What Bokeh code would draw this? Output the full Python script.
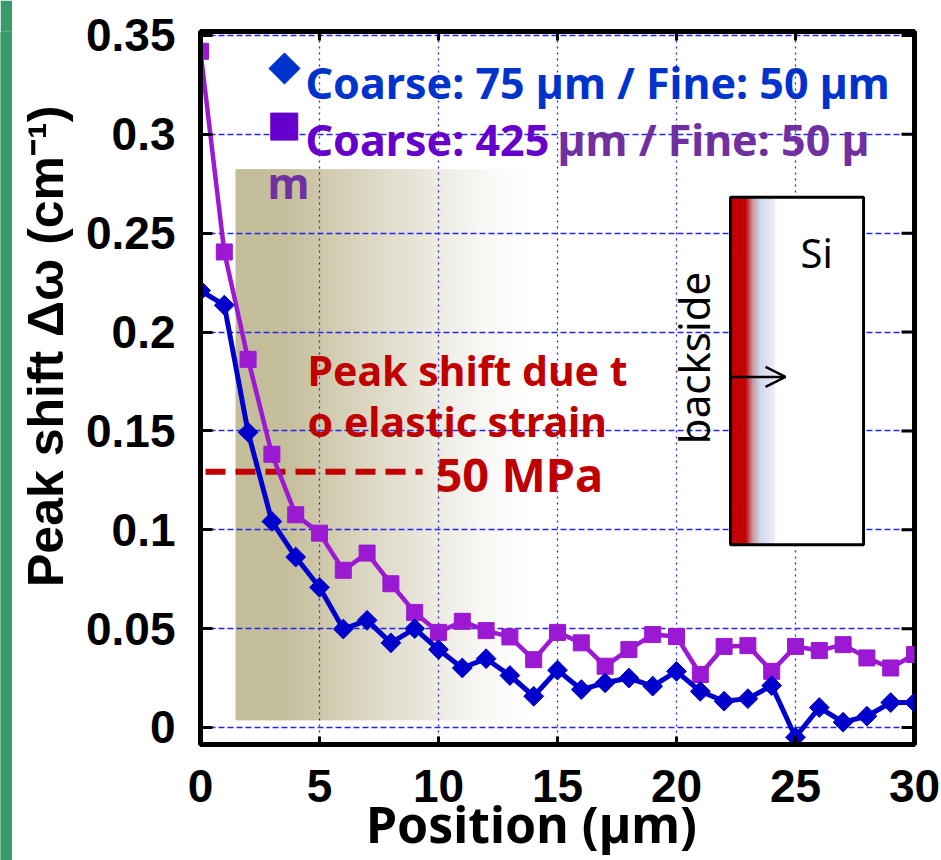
import numpy as np
from bokeh.plotting import figure
from bokeh.models import Range1d, FixedTicker, Arrow, OpenHead
from bokeh.layouts import row
from bokeh.core.properties import value
from bokeh.embed import file_html
from bokeh.resources import INLINE

# ---------------- data ----------------
positions = list(range(31))
coarse75_fine50 = [0.221, 0.2136, 0.1493, 0.1042, 0.0862, 0.0709, 0.0498, 0.0542, 0.0428, 0.0500,
                   0.0394, 0.0301, 0.0348, 0.0263, 0.0158, 0.0290, 0.0192, 0.0226, 0.0250, 0.0209,
                   0.0284, 0.0183, 0.0133, 0.0146, 0.0212, -0.0049, 0.0101, 0.0027, 0.0057, 0.0126,
                   0.0126]
coarse425_fine50 = [0.342, 0.2405, 0.1862, 0.1382, 0.1076, 0.0983, 0.0795, 0.0882, 0.0727, 0.0582,
                    0.0481, 0.0537, 0.0490, 0.0458, 0.0343, 0.0481, 0.0428, 0.0310, 0.0394, 0.0470,
                    0.0460, 0.0268, 0.0410, 0.0414, 0.0284, 0.0410, 0.0389, 0.0419, 0.0352, 0.0301,
                    0.0369]
x_ticks = [0, 5, 10, 15, 20, 25, 30]
y_ticks = [0, 0.05, 0.1, 0.15, 0.2, 0.25, 0.3, 0.35]
y_tick_labels = ["0", "0.05", "0.1", "0.15", "0.2", "0.25", "0.3", "0.35"]
legend_blue = "Coarse: 75 µm / Fine: 50 µm"
legend_purple = ["Coarse: 425", "µm / Fine: 50 µ", "m"]
note_lines = ["Peak shift due t", "o elastic strain"]
stress_label = "50 MPa"
stress_level = 0.1293
x_label = "Position (µm)"
y_label = "Peak shift Δω (cm⁻¹)"

BLUE = "#0000CD"
PURPLE = "#9B19D2"
RED = "#C00000"
GRIDC = "#2626E6"
NBSP = "\u00a0"

X0, X1 = 0, 30
Y0, Y1 = -0.0086, 0.352

# ---------------- figure ----------------
p = figure(width=929, height=860, output_backend="svg", toolbar_location=None,
           x_range=Range1d(X0, X1), y_range=Range1d(Y0, Y1),
           min_border_left=188, min_border_right=27, min_border_top=31, min_border_bottom=115,
           background_fill_color="white", border_fill_color="white",
           outline_line_color="black", outline_line_width=5)

# grid
p.xgrid.ticker = FixedTicker(ticks=x_ticks)
p.ygrid.ticker = FixedTicker(ticks=y_ticks)
p.xgrid.grid_line_color = GRIDC
p.xgrid.grid_line_dash = "2 4"
p.xgrid.grid_line_width = 1.3
p.ygrid.grid_line_color = GRIDC
p.ygrid.grid_line_dash = "6 3"
p.ygrid.grid_line_width = 1.3

# axes
for ax in (p.xaxis[0], p.yaxis[0]):
    ax.axis_line_width = 5
    ax.major_tick_out = 0
    ax.major_tick_line_width = 3
    ax.minor_tick_line_color = None
    ax.major_label_text_font = "Liberation Sans"
    ax.major_label_text_font_style = "bold"
    ax.major_label_text_font_size = "46px"
    ax.major_label_text_color = "black"
    ax.axis_label_text_color = "black"
    ax.axis_label_text_font_style = "bold"

p.xaxis.ticker = FixedTicker(ticks=x_ticks)
p.xaxis.major_tick_in = 8
p.xaxis.major_label_standoff = 25
p.xaxis.axis_label = x_label + NBSP * 4
p.xaxis.axis_label_text_font = "Noto Sans"
p.xaxis.axis_label_text_font_size = "50px"
p.xaxis.axis_label_standoff = -15

p.yaxis.ticker = FixedTicker(ticks=y_ticks)
p.yaxis.major_label_overrides = {t: l for t, l in zip(y_ticks, y_tick_labels)}
p.yaxis.major_tick_in = 12
p.yaxis.major_label_standoff = 25
p.yaxis.axis_label = NBSP * 6 + y_label
p.yaxis.axis_label_text_font = "Liberation Sans"
p.yaxis.axis_label_text_font_size = "50px"
p.yaxis.axis_label_standoff = 9

# inner ticks on the top and right edges of the frame
px_y = (Y1 - Y0) / 714.0
px_x = (X1 - X0) / 714.0
top_ticks = x_ticks[1:-1]
p.segment(x0=top_ticks, x1=top_ticks, y0=[Y1] * len(top_ticks),
          y1=[Y1 - 9 * px_y] * len(top_ticks), line_color="black", line_width=3)
p.segment(x0=[X1] * len(y_ticks), x1=[X1 - 13 * px_x] * len(y_ticks), y0=y_ticks, y1=y_ticks,
          line_color="black", line_width=3)


def gradient(fig, x0, x1, y0, y1, stops, n=160, level="image"):
    xs = np.linspace(x0, x1, n + 1)
    sx = [s[0] for s in stops]
    cols = np.array([s[1] for s in stops], dtype=float)
    mids = (xs[:-1] + xs[1:]) / 2
    rr = np.interp(mids, sx, cols[:, 0])
    gg = np.interp(mids, sx, cols[:, 1])
    bb = np.interp(mids, sx, cols[:, 2])
    colors = ["#%02x%02x%02x" % (int(round(a)), int(round(b)), int(round(c))) for a, b, c in zip(rr, gg, bb)]
    rights = np.minimum(xs[1:] + (x1 - x0) / n * 0.8, x1)
    fig.quad(left=xs[:-1], right=rights, bottom=y0, top=y1, fill_color=colors,
             line_color=None, level=level)


# shaded strain region (behind grid)
gradient(p, 1.47, 13.9, 0.0037, 0.2823,
         [(1.47, (196, 189, 154)), (3.6, (197, 190, 156)), (5.0, (206, 200, 171)),
          (7.5, (222, 218, 200)), (10.0, (237, 235, 226)), (12.0, (249, 248, 245)),
          (13.9, (255, 255, 255))])

# inset (Si block)
IN_L, IN_R, IN_B, IN_T = 22.27, 27.86, 0.0924, 0.2682
p.quad(left=[IN_L], right=[IN_R], bottom=[IN_B], top=[IN_T], fill_color="white", line_color=None)
gradient(p, IN_L, 24.16, IN_B, IN_T,
         [(IN_L, (192, 0, 0)), (22.9, (192, 0, 0)), (23.2, (200, 150, 160)),
          (23.53, (205, 218, 238)), (23.87, (228, 225, 245)), (24.1, (242, 232, 248)),
          (24.16, (255, 255, 255))], n=60, level="glyph")
p.quad(left=[IN_L], right=[IN_R], bottom=[IN_B], top=[IN_T], fill_color=None,
       line_color="black", line_width=3)
p.add_layout(Arrow(end=OpenHead(size=20, line_width=2.5, line_color="black"),
                   x_start=22.3, y_start=0.1773, x_end=24.58, y_end=0.1773,
                   line_width=2.5, line_color="black"))
p.text(x=[25.21], y=[0.2404], text=["Si"], text_font=value("Noto Sans"),
       text_font_size="40px", text_color="black", text_baseline="alphabetic")
p.text(x=[20.71], y=[0.1869], text=["backside"], text_font=value("Noto Sans"),
       text_font_size="42px", text_color="black", angle=np.pi / 2,
       text_align="center", text_baseline="middle")

# 50 MPa reference line
p.line(x=[0.21, 9.33], y=[stress_level, stress_level], line_color=RED, line_width=6,
       line_dash="20 10")
p.text(x=[9.87], y=[stress_level], text=[stress_label], text_font=value("Noto Sans"),
       text_font_style="bold", text_font_size="47px", text_color=RED,
       text_baseline="middle", y_offset=2)
p.text(x=[4.5, 4.5], y=[0.1808, 0.155], text=note_lines, text_font=value("Noto Sans"),
       text_font_style="bold", text_font_size="41px", text_color=RED,
       text_baseline="alphabetic")

# data series
p.line(positions, coarse425_fine50, line_color=PURPLE, line_width=4.5)
p.scatter(positions, coarse425_fine50, marker="square", size=16, fill_color=PURPLE,
          line_color=PURPLE)
p.line(positions, coarse75_fine50, line_color=BLUE, line_width=5)
p.scatter(positions, coarse75_fine50, marker="square", size=14, angle=np.pi / 4,
          fill_color=BLUE, line_color=BLUE)

# legend (drawn manually)
p.scatter([3.53], [0.3333], marker="square", size=22, angle=np.pi / 4,
          fill_color="#0033CC", line_color="#0033CC")
p.scatter([3.52], [0.3039], marker="square", size=27, fill_color="#6600CC", line_color="#6600CC")
p.text(x=[4.41], y=[0.3263], text=[legend_blue], text_font=value("Noto Sans"),
       text_font_style="bold", text_font_size="43px", text_color="#0033CC",
       text_baseline="alphabetic")
p.text(x=[4.41], y=[0.2975], text=[legend_purple[0]], text_font=value("Noto Sans"),
       text_font_style="bold", text_font_size="43px", text_color="#6600CC",
       text_baseline="alphabetic")
p.text(x=[15.0], y=[0.2975], text=[legend_purple[1]], text_font=value("Noto Sans"),
       text_font_style="bold", text_font_size="43px", text_color="#7030A0",
       text_baseline="alphabetic")
p.text(x=[2.82], y=[0.2758], text=[legend_purple[2]], text_font=value("Noto Sans"),
       text_font_style="bold", text_font_size="43px", text_color="#7030A0",
       text_baseline="alphabetic")

# green strip at the far left
strip = figure(frame_width=12, frame_height=860, output_backend="svg", toolbar_location=None,
               x_range=Range1d(0, 1), y_range=Range1d(0, 1), min_border=0,
               background_fill_color="#389B6C", border_fill_color="#389B6C",
               outline_line_color=None)
strip.axis.visible = False
strip.grid.visible = False
strip.quad(left=[0], right=[1], bottom=[0], top=[1], fill_color="#389B6C", line_color=None)

layout = row(strip, p, spacing=0)
open("out.html", "w").write(file_html(layout, INLINE))
